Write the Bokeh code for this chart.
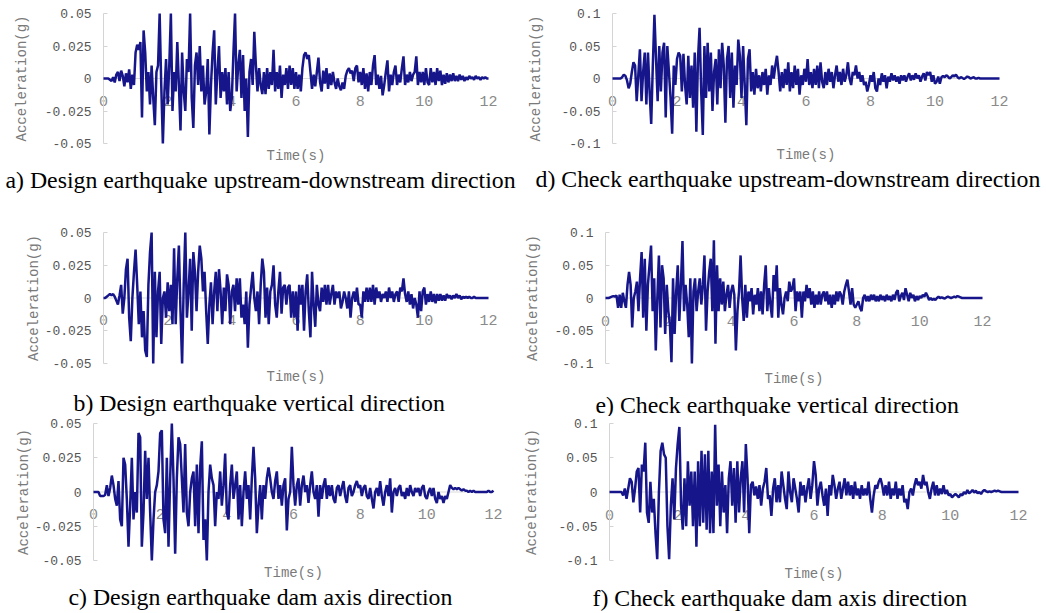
import numpy as np
from bokeh.plotting import figure
from bokeh.models import FixedTicker, Title, Range1d, Span
from bokeh.layouts import row, column
from bokeh.embed import file_html
from bokeh.resources import INLINE

# acceleration samples every 0.05 s from 0 to 12 s, in units of 0.001 g
UNIT = 0.001

design_ud = [
    0, 0, 0, 0, -1, -2, 1, -3, 3, 5, -2, 6, 2, -6, 4, -3, 7, -8, 3, -5,
    20, 26, 22, 28, -30, 37, 20, -10, 5, -20, 10, -15, -36, 5, 10, 50, -5, -50, -10, 15,
    -20, 10, 50, -25, 5, -10, 28, -5, -40, 20, -10, -25, 15, 5, 50, -15, -38, 10, 20, -5,
    25, -10, 10, -20, -10, 15, -43, -5, 20, 37, -20, 5, 25, -15, 5, -10, 8, -20, 5, -25,
    -15, 20, 50, -10, 10, 22, -15, 18, -25, 0, -45, 5, 15, -5, 36, 10, -10, 8, -5, -12,
    5, -12, 8, -8, 5, -5, 22, -10, 5, -8, 10, -15, 3, -5, 8, -8, 10, -5, 8, -8,
    5, -8, 3, -10, 8, 18, 20, 15, 18, 5, -8, 3, -6, 5, 16, -3, -10, 6, -4, 8,
    -8, 4, -5, 5, -3, -8, 0, -6, -9, -3, -8, 2, 6, 8, 4, 6, -2, 8, 10, -3,
    5, -5, 8, -8, 4, -10, 5, -5, 10, 18, -5, 3, -8, 2, -13, -5, 5, 14, -10, 3,
    -5, 5, 10, -5, 3, -3, 8, 17, -5, 3, -3, 5, -2, 3, 5, 17, -5, 5, -3, 5,
    -5, 8, -3, -5, 8, -3, 5, -5, 8, -2, 6, -5, 3, -4, 4, -3, 3, -2, 4, -2,
    2, -2, 3, -1, 2, -2, 1, -1, 2, 0, 1, -1, 2, 0, 1, -1, 1, 0, 1, 0, 0,
]

check_ud = [
    0, 0, 0, 0, 0, 0, 2, 6, 4, -3, -15, -8, 10, 25, 20, -35, 5, 45, -35, 10,
    40, -40, 40, -20, -70, 20, 98, 30, -35, 50, -20, 40, 55, -60, 50, 10, -30, -85, 20, -10,
    30, 40, 35, -20, 38, -10, -40, 35, -30, 20, -45, 40, -82, 30, 78, -20, -87, 50, -30, 55,
    -20, 40, -50, 10, 30, -40, 45, -15, 55, 20, -68, 30, 50, -30, 40, -45, 20, -10, 60, 35,
    -30, 50, -10, -72, 30, 45, -20, 10, -25, 15, -15, 5, -20, 10, -10, 15, -25, 5, -10, 20,
    0, 20, 35, 10, -20, 10, -15, 15, -10, 25, -20, 10, -15, 20, -10, 15, -25, 5, -10, 15,
    -5, 30, -10, 10, -15, 15, -10, 20, -15, 25, -5, -15, 10, -10, 15, -5, 10, -15, 5, 20,
    -5, 10, -10, 15, -5, 5, 25, 0, -10, 10, 5, 20, 0, 10, -5, 5, -10, -5, -20, -10,
    5, -5, 10, -15, -20, 0, -10, 8, -5, 5, -15, 3, -5, 8, -3, 5, -5, 3, -8, 5,
    -3, 5, -5, 3, 8, -3, 5, -2, 8, 0, 5, -5, 3, 8, -3, 10, 5, 10, -5, 5,
    -8, -5, 3, -8, 2, 4, 2, 5, 3, 0, 2, 5, 3, 6, 2, 0, 2, 1, -1, 1,
    3, 2, 0, 1, 2, 0, 0, 1, 0, 0, 0, 0, 0, 0, 0, 0, 0, 0, 0, 0, 0,
]

design_v = [
    0, 0, 1, 2, 3, 2, 3, 1, -2, -5, 2, 10, -12, 0, 22, 30, -15, -33, 0, 20,
    37, 10, -20, 5, -30, -10, -40, -45, 10, 35, 50, -50, 20, -30, 5, 20, -35, 0, 5, -15,
    12, -10, 10, -20, 38, -20, 15, 40, -10, -50, 10, 50, -15, 5, 30, -25, 35, 20, -10, 20,
    40, 30, 5, 20, -10, -35, -5, 12, -20, 5, 20, -10, 22, 5, -20, 8, -10, 18, 10, -20,
    5, 10, -10, 15, -5, 15, -15, -5, -20, 5, -38, -5, 8, 20, 0, -10, 5, -20, 10, 30,
    20, -15, 8, -20, 5, 10, 25, -5, -15, 5, 20, -12, 8, 10, -5, 8, 10, -15, 5, -15,
    5, -25, 10, -5, 10, -25, 5, 18, -10, -30, 20, -5, -22, 10, -5, -10, 8, -3, 10, -5,
    10, -5, 3, 10, -5, 5, 0, 5, -8, -3, 5, 0, -8, 5, -15, 0, 5, -3, 8, -5,
    -5, -15, 5, -3, 8, -3, 8, -3, 10, -5, 8, 0, 5, -3, 3, 0, 5, -3, 8, 0,
    5, -3, 3, 5, -3, 8, 5, 15, 3, -3, 5, -5, 3, -8, 0, -5, -15, 5, -10, 5,
    8, -5, 3, -3, 5, -3, 3, -4, 3, -2, 3, -2, 2, -2, 3, 0, 2, -1, 2, 0,
    3, 0, 2, -1, 1, 0, 1, 0, 1, 0, 0, 1, 0, 0, 0, 0, 0, 0, 0, 0, 0,
]

check_v = [
    0, 0, 0, 1, 2, 3, 2, 4, -15, 5, -15, 8, -5, -15, 20, 40, 20, -45, 0, 10,
    25, -20, 30, 70, -30, 60, -50, 20, 50, 80, -20, 30, -80, 0, 65, -45, 50, 30, -55, 20,
    -20, -40, -98, 30, -55, 10, 50, -35, 20, 87, -20, 20, -10, -60, 30, -100, 10, 30, -20, 10,
    30, -10, 20, 65, -50, 10, 40, 60, -20, 88, -70, 50, -20, 30, -10, 25, -20, 5, 20, -15,
    10, 20, 5, -80, -20, 10, 65, 0, -35, 20, -30, 10, -5, 15, -25, 5, -10, 15, -20, 10,
    -25, 20, 50, -20, 15, -10, -30, 35, 10, 50, -30, 15, -10, -25, 0, 10, -5, 25, 10, 15,
    30, -20, 10, -5, 10, -30, 10, -5, 20, 0, 15, -10, 10, -15, 5, -10, 10, -10, 5, 10,
    -5, 10, -10, 5, -15, 5, -10, 10, -5, 10, 5, -10, 10, 20, 28, 10, -10, 15, -10, -15,
    -10, -5, -15, -20, 0, 5, -5, 3, -5, 5, -3, 5, -5, 3, -5, 5, -3, 3, -5, 5,
    -3, 3, -5, 5, -3, 8, 12, -5, 3, 8, -3, 15, 5, -5, 8, 0, 5, -5, 3, -3,
    3, 0, 5, 2, 8, 3, -3, 0, -3, -1, -3, 0, 2, 0, 1, 0, -1, 1, 2, 1,
    0, 1, 2, 1, 3, 2, 1, 0, 0, 0, 0, 0, 0, 0, 0, 0, 0, 0, 0, 0, 0,
]

design_axis = [
    0, 0, 0, 0, -3, -3, -3, -2, 5, -3, 3, 12, 5, -5, -10, 8, -20, -25, 25, 20,
    -5, -40, -10, 25, -20, 0, -15, 43, 40, -40, -15, 30, -5, 25, -15, -50, -20, 0, 5, 15,
    43, 45, -20, -30, 25, -40, 10, 50, 10, -45, 10, 40, 35, 10, -15, 35, -15, -25, 0, 10,
    15, -25, 20, -30, 18, 37, -35, -20, -50, 0, 20, 10, 5, -25, 0, -5, 15, -10, 5, 28,
    -15, -20, 5, 20, -5, 5, 15, -20, 5, -25, 0, 15, -5, 5, -20, 10, 33, 10, -30, -10,
    5, -20, 5, -5, 10, 18, 10, 0, -5, 8, 15, -5, 5, -10, 5, 10, -28, -5, 0, 33,
    5, -10, 5, 10, -10, 5, 12, 0, 5, -8, 5, 15, 0, -5, 5, -18, 5, -5, 5, 10,
    -5, 5, -3, 5, -5, -8, 3, 5, -3, 3, 8, -3, -8, 3, 5, -3, 0, 5, 8, 3,
    5, -3, 3, 5, -3, -5, 3, -5, -12, 0, 3, -3, 8, -3, -10, 0, 5, -3, 10, -15,
    0, 3, -3, 3, 5, -3, 0, -5, 3, -3, 5, 0, -3, 3, 0, 3, -3, 3, 5, -3,
    -5, 0, 3, -3, 3, -5, -8, 0, -5, -3, -8, -3, -5, 0, 5, 3, 2, 3, 2, 3,
    2, 1, 2, 1, 1, 0, 1, 0, 1, 0, 0, 0, 0, 0, 0, 0, 0, 1, 0, 0, 1,
]

check_axis = [
    0, 0, 0, 0, 0, 0, 0, 0, -5, 5, -10, 5, 20, 15, -15, 5, 30, 35, -30, 40,
    30, 72, -30, -45, 15, -30, -10, -60, -98, 0, 60, 72, 55, 50, -50, -98, -20, 20, -40, 35,
    70, 95, -20, -55, 20, -50, 45, -20, 30, -50, 30, -80, 45, -50, 60, -45, 55, -55, 60, -60,
    30, -60, 98, -20, 40, -50, 30, -30, 10, -60, 20, 45, -20, 35, -45, 45, -30, 20, 45, -30,
    70, 20, -60, 10, 15, -5, 8, -10, 10, -20, 5, 15, 35, -10, -5, -35, 5, 20, -15, 10,
    -15, 30, 10, -10, -25, 30, 0, -15, 20, 5, -10, -30, 15, -5, 10, -15, 5, 20, -10, 10,
    45, 25, -20, 5, 15, -5, -20, 5, -35, 10, -5, 25, 10, -10, 5, 15, -10, 5, 20, -5,
    15, -5, 10, -10, 15, -5, 5, -10, 10, -5, 5, -5, 15, -10, -30, -5, 10, 5, 15, 20,
    10, -5, 10, -5, 15, -10, 5, -5, 15, -10, 5, -5, 10, -15, -10, -25, 0, 5, -5, 10,
    20, 10, 15, 5, 25, 10, 15, 0, -10, 5, 15, -5, 10, -5, 5, -3, 10, -3, 3, -5,
    -3, -8, -5, -3, -5, -8, -3, -5, 0, -3, 3, -2, 0, 3, -1, 2, -2, 0, -3, 1,
    3, 1, 0, 1, 0, 1, 2, 1, 2, 1, 0, 0, 0, 0, 0, 0, 0, 0, 0, 0, 0,
]

x_ticks = [0, 2, 4, 6, 8, 10, 12]
x_tick_labels = ["0", "2", "4", "6", "8", "10", "12"]
design_ticks = [-0.05, -0.025, 0, 0.025, 0.05]
design_tick_labels = ["-0.05", "-0.025", "0", "0.025", "0.05"]
check_ticks = [-0.1, -0.05, 0, 0.05, 0.1]
check_tick_labels = ["-0.1", "-0.05", "0", "0.05", "0.1"]

captions = [
    "a) Design earthquake upstream-downstream direction",
    "d) Check earthquake upstream-downstream direction",
    "b) Design earthquake vertical direction",
    "e) Check earthquake vertical direction",
    "c) Design earthquake dam axis direction",
    "f) Check earthquake dam axis direction",
]

LINE = "#16168a"
MONO = "Liberation Mono"
XLAB_DROP = 27     # px from the zero line down to the bottom of the time labels


def make_panel(values, yticks, ylabels, caption, width, height, left, top,
               frame_w, frame_h, ylab_standoff, cap_offset, s1, s2):
    ymax = max(yticks)
    t = np.linspace(0, 12, len(values))
    a = np.array(values, dtype=float) * UNIT
    p = figure(width=width, height=height,
               x_range=Range1d(0, 12), y_range=Range1d(-ymax, ymax),
               output_backend="svg", toolbar_location=None,
               x_axis_location="above", y_axis_location="left",
               min_border_left=left, min_border_top=top,
               min_border_right=width - left - frame_w,
               min_border_bottom=height - top - frame_h)
    p.outline_line_color = None
    p.grid.visible = False
    p.background_fill_color = "white"
    p.border_fill_color = "white"

    ax = p.yaxis[0]
    ax.ticker = FixedTicker(ticks=yticks)
    ax.major_label_overrides = {k: v for k, v in zip(yticks, ylabels)}
    ax.major_label_text_font = MONO
    ax.major_label_text_font_size = "13px"
    ax.major_label_text_color = "#555555"
    ax.major_label_standoff = 12
    ax.major_tick_in = 4
    ax.major_tick_out = 0
    ax.minor_tick_line_color = None
    ax.axis_line_color = "#d4d4d4"
    ax.major_tick_line_color = "#d4d4d4"
    ax.axis_label = "Acceleration(g)"
    ax.axis_label_text_font = MONO
    ax.axis_label_text_font_size = "14px"
    ax.axis_label_text_font_style = "normal"
    ax.axis_label_text_color = "#7a7a7a"
    ax.axis_label_standoff = ylab_standoff

    # zero line (the chart's horizontal axis)
    p.add_layout(Span(location=0, dimension="width", line_color="#d9d9d9",
                      line_width=1, level="underlay"))

    # time labels: the top axis' labels are pushed down to hang under the zero line
    xa = p.xaxis[0]
    xa.ticker = FixedTicker(ticks=x_ticks)
    xa.major_label_overrides = {k: v for k, v in zip(x_ticks, x_tick_labels)}
    xa.major_tick_in = 0
    xa.major_tick_out = 0
    xa.major_tick_line_color = None
    xa.minor_tick_line_color = None
    xa.axis_line_color = None
    xa.major_label_standoff = -(frame_h // 2 + XLAB_DROP)
    xa.major_label_text_font = MONO
    xa.major_label_text_font_size = "15px"
    xa.major_label_text_color = "#8a8a8a"

    p.line(t, a, line_color=LINE, line_width=2.5, level="overlay")

    p.add_layout(Title(text="Time(s)", align="center", standoff=s1,
                       text_font=MONO, text_font_size="14px",
                       text_font_style="normal", text_color="#7a7a7a"), "below")
    p.add_layout(Title(text=caption, align="left", offset=cap_offset, standoff=s2,
                       text_font="Liberation Serif", text_font_size="23.8px",
                       text_font_style="normal", text_color="black"), "below")
    return p


pa = make_panel(design_ud, design_ticks, design_tick_labels, captions[0],
                520, 193, 103, 13, 385, 130, 12, -98, 5, -3)
pd_ = make_panel(check_ud, check_ticks, check_tick_labels, captions[1],
                 526, 193, 92, 13, 387, 130, 14, -77, 3, -1)
pb = make_panel(design_v, design_ticks, design_tick_labels, captions[2],
                520, 223, 103, 39, 385, 131, 0, -30, 7, -1)
pe = make_panel(check_v, check_ticks, check_tick_labels, captions[3],
                526, 223, 85, 39, 377, 133, 10, -10, 10, -4)
pc = make_panel(design_axis, design_ticks, design_tick_labels, captions[4],
                520, 197, 93, 7, 400, 137, 0, -25, 5, -4)
pf = make_panel(check_axis, check_ticks, check_tick_labels, captions[5],
                526, 197, 89, 7, 409, 139, 15, -17, 7, -6)

layout = column(row(pa, pd_), row(pb, pe), row(pc, pf))
open("out.html", "w").write(file_html(layout, INLINE))
